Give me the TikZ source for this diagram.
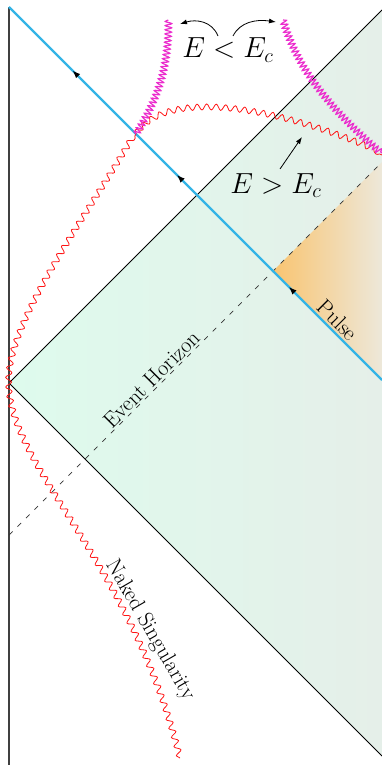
\documentclass[tikz,border=0pt]{standalone}
\usetikzlibrary{decorations.pathmorphing,decorations.markings,arrows.meta}
\definecolor{pulseblue}{RGB}{52,180,230}
\definecolor{mint}{RGB}{222,251,237}
\definecolor{mintgray}{RGB}{229,239,233}
\definecolor{orng}{RGB}{249,196,112}
\definecolor{beige}{RGB}{237,232,218}
\definecolor{magw}{RGB}{235,45,205}
\definecolor{redw}{RGB}{255,20,20}
\tikzset{
  lbl/.style={font=\fontsize{22}{26}\selectfont},
  mathlbl/.style={font=\fontsize{20}{24}\selectfont, scale=1.4, inner sep=0pt},
  redsnake/.style={draw=redw, line width=0.8pt, decorate,
    decoration={snake, segment length=9.5pt, amplitude=3pt}},
  magsnake/.style={draw=magw, line width=1.2pt, decorate,
    decoration={snake, segment length=4.2pt, amplitude=3.2pt}},
  pulse/.style={draw=pulseblue, line width=2.4pt},
  callout/.style={-{Latex[length=7pt,width=5pt]}, line width=0.8pt},
  bluearrows/.style={postaction={decorate}, decoration={markings,
    mark=at position 0.25 with {\arrow[black]{Latex[length=8pt,width=6pt]}},
    mark=at position 0.55 with {\arrow[black]{Latex[length=8pt,width=6pt]}},
    mark=at position 0.83 with {\arrow[black]{Latex[length=8pt,width=6pt]}}}}
}
\begin{document}
\begin{tikzpicture}[x=1pt,y=-1pt]
\useasboundingbox (0,0) rectangle (382,765);
% geometry
\coordinate (T) at (9,7);
\coordinate (B) at (9,765);
\coordinate (O) at (9,383);
\coordinate (UR) at (382,10);
\coordinate (LR) at (382,756);
\coordinate (DL) at (9,535);
\coordinate (DR) at (382,162);
\coordinate (PE) at (382,380);
\coordinate (PC) at (273,271);
\coordinate (X) at (136,134);
% shaded regions
\shade[left color=mint, right color=mintgray] (O) -- (UR) -- (LR) -- cycle;
\shade[left color=orng, right color=beige] (PC) -- (DR) -- (PE) -- cycle;
% lines
\draw[line width=0.8pt] (O) -- (UR);
\draw[line width=0.8pt] (O) -- (LR);
\draw[line width=1.2pt, black!75] (T) -- (B);
\draw[line width=0.7pt, black!80, dash pattern=on 5pt off 7pt] (DL) -- (DR);
% pulse
\draw[pulse, bluearrows] (PE) -- (T);
% red singular curve
\draw[redsnake] (180,758) .. controls (130,560) and (9,470) .. (O)
  .. controls (9,320) and (90,215) .. (X);
\draw[redsnake] (X) .. controls (165,92) and (270,105) .. (382,155);
% magenta
\draw[magsnake] (X) .. controls (160,95) and (168,65) .. (168,20);
\draw[magsnake] (283,20) .. controls (295,60) and (320,100) .. (382,153);
% labels
\node[mathlbl, anchor=base] (Elt) at (228,58) {$E<E_c$};
\node[mathlbl, anchor=base] (Egt) at (276,193) {$E>E_c$};
\coordinate (a1s) at (218,36);
\coordinate (a1e) at (180,24);
\coordinate (a2s) at (233,36);
\coordinate (a2e) at (276,22);
\coordinate (a3s) at (280,169);
\coordinate (a3e) at (302,137);
\draw[callout] (a1s) .. controls (212,21) and (196,19) .. (a1e);
\draw[callout] (a2s) .. controls (240,22) and (256,19) .. (a2e);
\draw[callout] (a3s) -- (a3e);
\path (DL) -- node[lbl, pos=0.40, sloped, above, inner sep=1.5pt] (eh) {Event Horizon} (DR);
\path (T) -- node[lbl, pos=0.86, sloped, above, inner sep=3pt] (pl) {Pulse} (PE);
\node[lbl, rotate=-60] (ns) at (150,630) {Naked Singularity};
\end{tikzpicture}
\end{document}
